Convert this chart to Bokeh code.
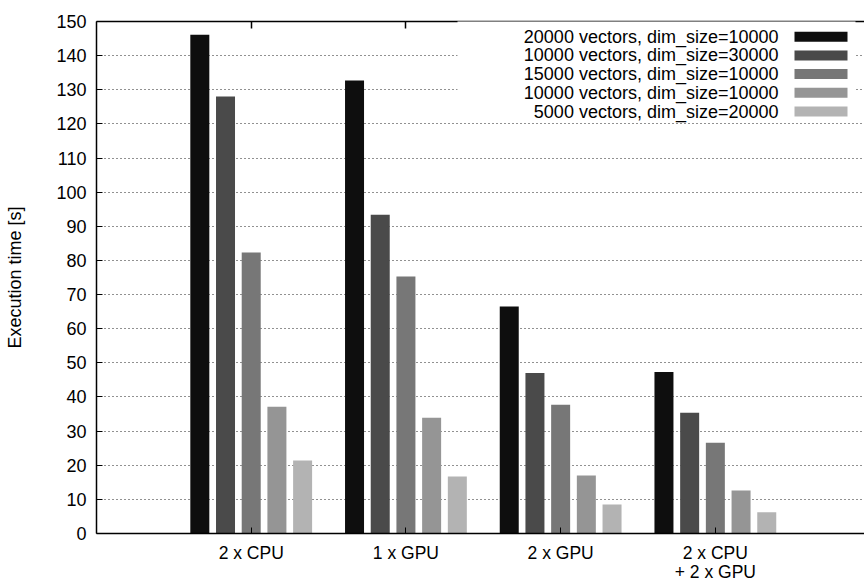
from bokeh.plotting import figure
from bokeh.models import LinearAxis, FixedTicker, Range1d, Label, BoxAnnotation
from bokeh.embed import file_html
from bokeh.resources import INLINE

# ---- data ----
categories = ["2 x CPU", "1 x GPU", "2 x GPU", "2 x CPU\n+ 2 x GPU"]
series_names = [
    "20000 vectors, dim_size=10000",
    "10000 vectors, dim_size=30000",
    "15000 vectors, dim_size=10000",
    "10000 vectors, dim_size=10000",
    "5000 vectors, dim_size=20000",
]
s_20000_10000 = [146.1, 132.7, 66.5, 47.3]
s_10000_30000 = [128.0, 93.4, 47.0, 35.4]
s_15000_10000 = [82.3, 75.3, 37.7, 26.6]
s_10000_10000 = [37.1, 33.9, 17.0, 12.6]
s_5000_20000 = [21.4, 16.7, 8.5, 6.2]
series_values = [s_20000_10000, s_10000_30000, s_15000_10000, s_10000_10000, s_5000_20000]
colors = ["#0e0e0e", "#4a4a4a", "#777777", "#959595", "#b3b3b3"]
y_ticks = list(range(0, 151, 10))
y_label = "Execution time [s]"

FONT = "Liberation Sans"
FS = "18px"

cat_ticks = list(range(len(categories)))

p = figure(width=864, height=584, x_range=Range1d(-1, 3.964), y_range=Range1d(0, 150),
           output_backend="svg", toolbar_location=None,
           min_border_left=96, min_border_right=0, min_border_top=21, min_border_bottom=49)
p.outline_line_color = None
p.background_fill_color = "white"
p.border_fill_color = "white"

# grid
p.xgrid.grid_line_color = None
p.ygrid.ticker = FixedTicker(ticks=y_ticks)
p.ygrid.grid_line_color = "#222222"
p.ygrid.grid_line_dash = "1 3"
p.ygrid.grid_line_width = 1

# y axis
ya = p.yaxis[0]
ya.ticker = FixedTicker(ticks=y_ticks)
ya.axis_label = y_label
ya.axis_label_text_font = FONT
ya.axis_label_text_font_size = "18px"
ya.axis_label_text_font_style = "normal"
ya.axis_label_text_color = "black"
ya.axis_label_standoff = 28
ya.major_label_text_font = FONT
ya.major_label_text_font_size = FS
ya.major_label_text_color = "black"
ya.major_label_standoff = 10
ya.major_tick_in = 6
ya.major_tick_out = 0
ya.minor_tick_line_color = None
ya.axis_line_width = 1.5
ya.axis_line_color = "black"

# x axis with category labels
xa = p.xaxis[0]
xa.ticker = FixedTicker(ticks=cat_ticks)
xa.major_label_overrides = {t: c for t, c in zip(cat_ticks, categories)}
xa.major_label_text_font = FONT
xa.major_label_text_font_size = "17.5px"
xa.major_label_text_color = "black"
xa.major_label_text_line_height = 0.95
xa.major_label_standoff = 9
xa.major_tick_in = 6
xa.major_tick_out = 0
xa.minor_tick_line_color = None
xa.axis_line_width = 1.5
xa.axis_line_color = "black"

top = LinearAxis(ticker=FixedTicker(ticks=cat_ticks),
                 major_label_text_font_size="0px", major_label_standoff=0,
                 major_tick_in=7, major_tick_out=0, minor_tick_line_color=None,
                 axis_line_width=1.5, axis_line_color="black", major_tick_line_width=1.5)
p.add_layout(top, "above")

# bars
step = 0.1661
bw = 0.1228
n = len(series_values)
for j, (vals, col) in enumerate(zip(series_values, colors)):
    xs = [i + (j - (n - 1) / 2) * step for i in cat_ticks]
    p.vbar(x=xs, top=vals, bottom=0, width=bw, fill_color=col, line_color=None)

# legend (text right-aligned, swatch on the right)
frame_h = 514
p.add_layout(BoxAnnotation(left=361, right=759, bottom=frame_h - 100, top=frame_h,
                           left_units="screen", right_units="screen",
                           bottom_units="screen", top_units="screen",
                           fill_color="white", fill_alpha=1, line_color=None))
row0 = 17.2
row_h = 18.7
for j, (name, col) in enumerate(zip(series_names, colors)):
    cy = frame_h - (row0 + j * row_h)
    p.add_layout(Label(x=682, y=cy, x_units="screen", y_units="screen", text=name,
                       text_align="right", text_baseline="middle", text_font=FONT,
                       text_font_size=FS, text_color="black"))
    p.add_layout(BoxAnnotation(left=698, right=751, bottom=cy - 5, top=cy + 5,
                               left_units="screen", right_units="screen",
                               bottom_units="screen", top_units="screen",
                               fill_color=col, fill_alpha=1, line_color=None))

open("out.html", "w").write(file_html(p, INLINE))
